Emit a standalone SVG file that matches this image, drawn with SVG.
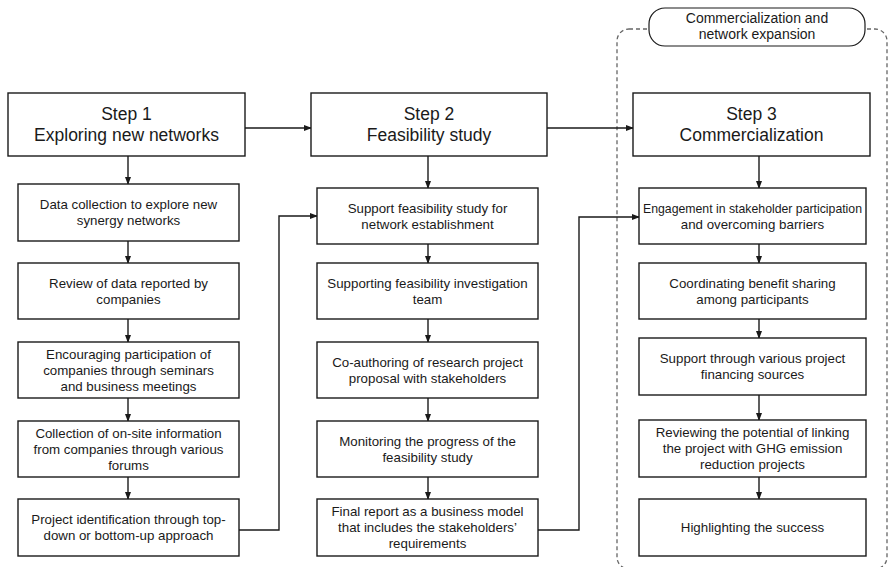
<svg xmlns="http://www.w3.org/2000/svg" width="889" height="567" viewBox="0 0 889 567">
<style>
.box{fill:#fff;stroke:#1a1a1a;stroke-width:1.4}
.t{font-family:"Liberation Sans",Arial,sans-serif;font-size:13.3px;fill:#1a1a1a;text-anchor:middle}
.st{font-family:"Liberation Sans",Arial,sans-serif;font-size:17.5px;fill:#1a1a1a;text-anchor:middle}
.pt{font-family:"Liberation Sans",Arial,sans-serif;font-size:14px;fill:#1a1a1a;text-anchor:middle}
.c{fill:none;stroke:#1a1a1a;stroke-width:1.4;marker-end:url(#ah)}
</style>
<defs>
<marker id="ah" markerWidth="8" markerHeight="6" refX="7" refY="3" orient="auto" markerUnits="userSpaceOnUse">
<path d="M0,0 L8,3 L0,6 Z" fill="#1a1a1a"/>
</marker>
</defs>
<rect x="617" y="29" width="270" height="540" rx="12" fill="none" stroke="#666" stroke-width="1.3" stroke-dasharray="4 3"/>
<g id="group-label">
<rect x="649" y="8" width="216" height="38" rx="16" fill="#fff" stroke="#1a1a1a" stroke-width="1.2"/>
<text class="pt" x="757" y="23">Commercialization and</text>
<text class="pt" x="757" y="39">network expansion</text>
</g>
<g id="connectors">
<path class="c" d="M245,128 H311"/>
<path class="c" d="M547,128 H633"/>
<path class="c" d="M128,156 V184"/>
<path class="c" d="M128,241 V263"/>
<path class="c" d="M128,319 V342"/>
<path class="c" d="M128,398 V421"/>
<path class="c" d="M128,477 V499"/>
<path class="c" d="M239,530 H279 V216 H317"/>
<path class="c" d="M428,156 V188"/>
<path class="c" d="M428,244 V263"/>
<path class="c" d="M428,319 V342"/>
<path class="c" d="M428,398 V421"/>
<path class="c" d="M428,477 V499"/>
<path class="c" d="M538,530 H579 V217 H639"/>
<path class="c" d="M759,156 V188"/>
<path class="c" d="M759,244 V263"/>
<path class="c" d="M759,319 V338"/>
<path class="c" d="M759,395 V420"/>
<path class="c" d="M759,477 V499"/>
</g>
<g id="step1"><rect class="box" x="8" y="93" width="237" height="63"/><text class="st" x="126.5" y="120">Step 1</text><text class="st" x="126.5" y="141">Exploring new networks</text></g>
<g id="step2"><rect class="box" x="311" y="93" width="236" height="63"/><text class="st" x="429" y="120">Step 2</text><text class="st" x="429" y="141">Feasibility study</text></g>
<g id="step3"><rect class="box" x="633" y="93" width="237" height="63"/><text class="st" x="751.5" y="120">Step 3</text><text class="st" x="751.5" y="141">Commercialization</text></g>

<g id="c1b1"><rect class="box" x="18" y="184" width="221" height="57"/><text class="t" x="128.5" y="209">Data collection to explore new</text><text class="t" x="128.5" y="225">synergy networks</text></g>
<g id="c1b2"><rect class="box" x="18" y="263" width="221" height="56"/><text class="t" x="128.5" y="288">Review of data reported by</text><text class="t" x="128.5" y="304">companies</text></g>
<g id="c1b3"><rect class="box" x="18" y="342" width="221" height="56"/><text class="t" x="128.5" y="358.5">Encouraging participation of</text><text class="t" x="128.5" y="374.5">companies through seminars</text><text class="t" x="128.5" y="390.5">and business meetings</text></g>
<g id="c1b4"><rect class="box" x="18" y="421" width="221" height="56"/><text class="t" x="128.5" y="437.5">Collection of on-site information</text><text class="t" x="128.5" y="453.5">from companies through various</text><text class="t" x="128.5" y="469.5">forums</text></g>
<g id="c1b5"><rect class="box" x="18" y="499" width="221" height="57"/><text class="t" x="128.5" y="524">Project identification through top-</text><text class="t" x="128.5" y="540">down or bottom-up approach</text></g>

<g id="c2b1"><rect class="box" x="317" y="188" width="221" height="56"/><text class="t" x="427.5" y="212.5">Support feasibility study for</text><text class="t" x="427.5" y="228.5">network establishment</text></g>
<g id="c2b2"><rect class="box" x="317" y="263" width="221" height="56"/><text class="t" x="427.5" y="288">Supporting feasibility investigation</text><text class="t" x="427.5" y="304">team</text></g>
<g id="c2b3"><rect class="box" x="317" y="342" width="221" height="56"/><text class="t" x="427.5" y="367">Co-authoring of research project</text><text class="t" x="427.5" y="383">proposal with stakeholders</text></g>
<g id="c2b4"><rect class="box" x="317" y="421" width="221" height="56"/><text class="t" x="427.5" y="446">Monitoring the progress of the</text><text class="t" x="427.5" y="462">feasibility study</text></g>
<g id="c2b5"><rect class="box" x="317" y="499" width="221" height="57"/><text class="t" x="427.5" y="516">Final report as a business model</text><text class="t" x="427.5" y="532">that includes the stakeholders’</text><text class="t" x="427.5" y="548">requirements</text></g>

<g id="c3b1"><rect class="box" x="639" y="188" width="227" height="56"/><text class="t" x="752.5" y="212.5" textLength="219" lengthAdjust="spacingAndGlyphs">Engagement in stakeholder participation</text><text class="t" x="752.5" y="228.5">and overcoming barriers</text></g>
<g id="c3b2"><rect class="box" x="639" y="263" width="227" height="56"/><text class="t" x="752.5" y="288">Coordinating benefit sharing</text><text class="t" x="752.5" y="304">among participants</text></g>
<g id="c3b3"><rect class="box" x="639" y="338" width="227" height="57"/><text class="t" x="752.5" y="363">Support through various project</text><text class="t" x="752.5" y="379">financing sources</text></g>
<g id="c3b4"><rect class="box" x="639" y="420" width="227" height="57"/><text class="t" x="752.5" y="437">Reviewing the potential of linking</text><text class="t" x="752.5" y="453">the project with GHG emission</text><text class="t" x="752.5" y="469">reduction projects</text></g>
<g id="c3b5"><rect class="box" x="639" y="499" width="227" height="57"/><text class="t" x="752.5" y="532">Highlighting the success</text></g>
</svg>
